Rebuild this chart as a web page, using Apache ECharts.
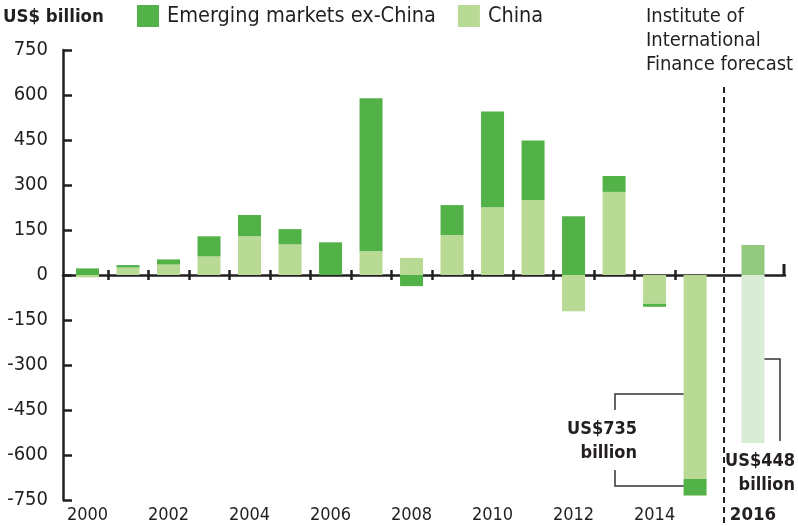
<!DOCTYPE html>
<html>
<head>
<meta charset="utf-8">
<script src="https://cdn.jsdelivr.net/npm/echarts@6/dist/echarts.min.js"></script>
<style>
    html, body { margin: 0; padding: 0; background: #fff; }
    #chart { width: 798px; height: 526px; }
</style>
</head>
<body>
<div id="chart"></div>
<script>
// data (US$ billion)
const years = [2000, 2001, 2002, 2003, 2004, 2005, 2006, 2007, 2008, 2009, 2010, 2011, 2012, 2013, 2014, 2015, 2016];
const china = [-8, 25, 35, 62, 129, 102, 0, 79, 57, 133, 226, 250, -121, 277, -96, -680, -560];
const exChina = [22, 8, 17, 67, 71, 51, 109, 510, -37, 100, 319, 198, 196, 53, -10, -55, 100];
const forecastYear = 2016;
const labelYears = [2000, 2002, 2004, 2006, 2008, 2010, 2012, 2014, 2016];
const yTicks = [-750, -600, -450, -300, -150, 0, 150, 300, 450, 600, 750];

// layout / style
const FONT = '"DejaVu Sans Condensed", "DejaVu Sans", sans-serif';
const INK = '#231f20';
const GREEN = '#52b147';
const LIGHT = '#b9da94';
const GREEN_F = '#93c97e';
const LIGHT_F = '#d9ecd5';
const FORECAST_SHIFT = 0.43;
const X_MIN = 1999.395;
const X_MAX = 2017.22;
const Y_MIN = yTicks[0];
const Y_MAX = yTicks[yTicks.length - 1];

const xOf = y => (y === forecastYear ? y + FORECAST_SHIFT : y);
const tickBoundaries = years.filter(y => y < forecastYear - 1).map(y => y + 0.5);

// value first so the stack runs on the y dimension
function makeData(vals, color, colorF) {
    return years.map((y, i) => ({
        value: [vals[i], xOf(y)],
        itemStyle: { color: y === forecastYear ? colorF : color },
    }));
}

const chart = echarts.init(document.getElementById('chart'));
const option = {
    animation: false,
    textStyle: { fontFamily: FONT },
    title: {
        text: 'US$ billion',
        left: 3,
        top: 8,
        padding: 0,
        textStyle: { fontFamily: FONT, fontWeight: 'bold', fontSize: 18.5, color: INK },
    },
    legend: {
        data: ['Emerging markets ex-China', 'China'],
        left: 137,
        top: 5,
        padding: 0,
        icon: 'rect',
        itemWidth: 22,
        itemHeight: 22,
        itemGap: 22,
        textStyle: { fontFamily: FONT, fontSize: 21.5, color: INK, padding: [0, 0, 0, 3] },
    },
    grid: { left: 63, right: 13, top: 50, bottom: 26 },
    xAxis: [
        {
            type: 'value', min: X_MIN, max: X_MAX,
            axisLine: { onZero: true, onZeroAxisIndex: 0, lineStyle: { color: INK, width: 2.5 } },
            axisTick: { customValues: tickBoundaries, length: 5, lineStyle: { color: INK, width: 2.5 } },
            axisLabel: { show: false },
            splitLine: { show: false },
        },
        {
            // upper half of the crossing ticks on the zero line
            type: 'value', position: 'top', min: X_MIN, max: X_MAX,
            axisLine: { show: false, onZero: true, onZeroAxisIndex: 1 },
            axisTick: { customValues: tickBoundaries, length: 5, lineStyle: { color: INK, width: 2.5 } },
            axisLabel: { show: false },
            splitLine: { show: false },
        },
        {
            type: 'value', position: 'bottom', min: X_MIN, max: X_MAX,
            axisLine: { show: false, onZero: false },
            axisTick: { show: false },
            axisLabel: {
                customValues: labelYears.map(xOf),
                margin: 6,
                fontFamily: FONT,
                fontSize: 18,
                color: INK,
                formatter: v => {
                    const y = Math.round(v - (v > forecastYear ? FORECAST_SHIFT : 0));
                    return y === forecastYear ? '{b|' + y + '}' : String(y);
                },
                rich: { b: { fontFamily: FONT, fontSize: 18.5, fontWeight: 'bold', color: INK } },
            },
            splitLine: { show: false },
        },
    ],
    yAxis: [
        {
            type: 'value',
            min: Y_MIN,
            max: Y_MAX,
            interval: 150,
            axisLine: { show: true, onZero: false, lineStyle: { color: INK, width: 2.5 } },
            axisTick: { show: true, inside: true, length: 9, lineStyle: { color: INK, width: 2.5 } },
            axisLabel: { fontFamily: FONT, fontSize: 20, color: INK, margin: 15 },
            splitLine: { show: false },
        },
        {
            // twin scale, only there so the second zero-line axis has something to sit on
            type: 'value', position: 'right', min: Y_MIN, max: Y_MAX, interval: 150,
            axisLine: { show: false, onZero: false },
            axisTick: { show: false },
            axisLabel: { show: false },
            splitLine: { show: false },
        },
    ],
    series: [
        {
            name: 'China',
            type: 'bar',
            stack: 'total',
            barWidth: 23,
            encode: { x: 1, y: 0 },
            itemStyle: { color: LIGHT },
            data: makeData(china, LIGHT, LIGHT_F),
        },
        {
            name: 'Emerging markets ex-China',
            type: 'bar',
            stack: 'total',
            barWidth: 23,
            encode: { x: 1, y: 0 },
            itemStyle: { color: GREEN },
            data: makeData(exChina, GREEN, GREEN_F),
        },
    ],
};
chart.setOption(option);

// annotations, anchored on the axes
const px = (x, y) => chart.convertToPixel({ xAxisIndex: 0, yAxisIndex: 0 }, [x, y]);
const divider = px((years[years.length - 2] + xOf(forecastYear)) / 2, 0)[0];
const endX = px(X_MAX, 0);
const bar15 = px(2015, 0)[0];
const bar16 = px(xOf(forecastYear), 0)[0];
const lineStyle = { stroke: '#333', lineWidth: 1.5, fill: null };

chart.setOption({
    graphic: [
        {
            type: 'line', silent: true,
            shape: { x1: divider, y1: 87, x2: divider, y2: 526 },
            style: { stroke: INK, lineWidth: 2, lineDash: [6, 4] },
        },
        {
            type: 'line', silent: true,
            shape: { x1: endX[0] - 1, y1: endX[1], x2: endX[0] - 1, y2: endX[1] - 11 },
            style: { stroke: INK, lineWidth: 3 },
        },
        {
            type: 'text', left: 646, top: 5, silent: true,
            style: { text: 'Institute of\nInternational\nFinance forecast', font: '20px ' + FONT, lineHeight: 24, fill: INK },
        },
        // US$735 bracket
        { type: 'polyline', silent: true, shape: { points: [[615, 410], [615, 394], [bar15 + 2, 394]] }, style: lineStyle },
        { type: 'polyline', silent: true, shape: { points: [[615, 470], [615, 486], [bar15 + 2, 486]] }, style: lineStyle },
        {
            type: 'text', silent: true, x: 637, y: 441,
            style: { text: 'US$735\nbillion', font: 'bold 18px ' + FONT, lineHeight: 24, fill: INK, align: 'right', verticalAlign: 'middle' },
        },
        // US$448 bracket
        { type: 'polyline', silent: true, shape: { points: [[bar16 + 1, 359], [780, 359], [780, 441]] }, style: lineStyle },
        {
            type: 'text', silent: true, x: 795, y: 473,
            style: { text: 'US$448\nbillion', font: 'bold 18px ' + FONT, lineHeight: 24, fill: INK, align: 'right', verticalAlign: 'middle' },
        },
    ],
});
</script>
</body>
</html>
